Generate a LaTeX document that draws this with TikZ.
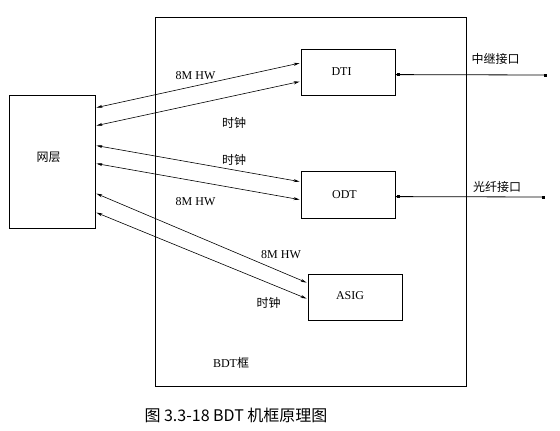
\documentclass[tikz,border=0pt]{standalone}
\usepackage{fontspec}
\setmainfont{Liberation Serif}
\newfontfamily\cjk{Noto Sans CJK SC}
\usetikzlibrary{calc,arrows.meta}
\tikzset{
  unit/.style={draw,line width=0.8pt,inner sep=0pt,minimum width=94pt,minimum height=46pt},
  link/.style={line width=0.6pt,{Stealth[length=6pt,width=3pt]}-{Stealth[length=6pt,width=3pt]}},
  port/.style={line width=0.8pt},
  dot/.style={fill,inner sep=0pt,minimum size=3pt},
  lbl/.style={font=\fontsize{12}{14}\selectfont,inner sep=0pt}
}
\begin{document}
\begin{tikzpicture}[x=1pt,y=-1pt]
  \useasboundingbox (0,0) rectangle (560,431);
  % frame
  \draw[line width=0.8pt] (155,17) rectangle (466,386);
  \node[lbl] at(231,363)(frame){BDT{\cjk 框}};
  % boxes
  \node[unit,minimum width=86pt,minimum height=133pt] at(52,161.5)(net){};
  \node[lbl] at(48.5,157.5)(netlbl){\cjk 网层};
  \node[unit] at(348,72)(dti){};
  \node[lbl] at(341.5,72)(dtilbl){DTI};
  \node[unit,minimum height=47pt] at(348,194.5)(odt){};
  \node[lbl] at(344.5,194.5)(odtlbl){ODT};
  \node[unit] at(355,297)(asig){};
  \node[lbl] at(350,295.5)(asiglbl){ASIG};
  % links
  \draw[link] ($(net.north east)+(1,13)$) -- ($(dti.north west)+(-1,14.5)$);
  \draw[link] ($(net.north east)+(1,31)$) -- ($(dti.north west)+(-1,33)$);
  \draw[link] ($(net.north east)+(1,51)$) -- ($(odt.north west)+(-1,11)$);
  \draw[link] ($(net.north east)+(1,69)$) -- ($(odt.north west)+(-1,29)$);
  \draw[link] ($(net.north east)+(1,99)$) -- ($(asig.north west)+(-1,9)$);
  \draw[link] ($(net.north east)+(1,118)$) -- ($(asig.north west)+(-1,25)$);
  % link texts
  \node[lbl] at(195.5,75.5)(hw1){8M HW};
  \node[lbl] at(234,122.5)(clk1){\cjk 时钟};
  \node[lbl] at(234,159.5)(clk2){\cjk 时钟};
  \node[lbl] at(195.5,202)(hw2){8M HW};
  \node[lbl] at(281,254.5)(hw3){8M HW};
  \node[lbl] at(268.5,303)(clk3){\cjk 时钟};
  % ports
  \coordinate (trunk) at(545,75);
  \coordinate (fiber) at(543,197);
  \draw[port] ($(dti.north east)+(0,26)$) -- node[dot,pos=0.02]{} (trunk) node[dot]{};
  \draw[port] ($(odt.north east)+(0,26)$) -- node[dot,pos=0.02]{} (fiber) node[dot]{};
  \node[lbl] at(495.5,58.5)(trunklbl){\cjk 中继接口};
  \node[lbl] at(497,186.5)(fiberlbl){\cjk 光纤接口};
  % caption
  \node[font=\cjk\fontsize{16}{18}\selectfont,inner sep=0pt] at(236,415)(caption){图 3.3-18 BDT 机框原理图};
\end{tikzpicture}
\end{document}
